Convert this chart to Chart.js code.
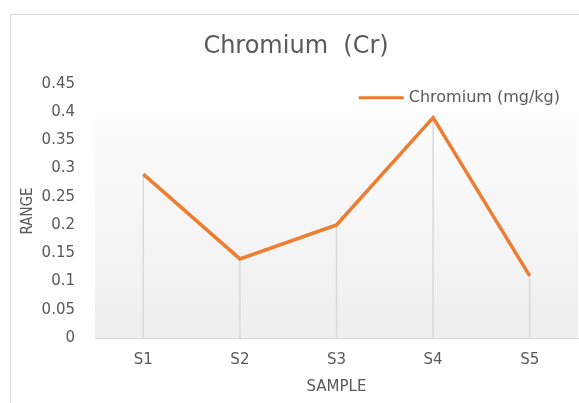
<!DOCTYPE html>
<html>
<head>
<meta charset="utf-8">
<script src="https://cdn.jsdelivr.net/npm/chart.js@4"></script>
<style>
  html, body { margin: 0; padding: 0; background: #fff; }
  #wrap { position: relative; width: 579px; height: 403px; }
  #frame { position: absolute; left: 10px; top: 14px; width: 600px; height: 420px;
           border: 1px solid #d9d9d9; pointer-events: none; }
</style>
</head>
<body>
<div id="wrap">
  <canvas id="crChart" width="579" height="403"></canvas>
  <div id="frame"></div>
</div>
<script>
const samples = ['S1', 'S2', 'S3', 'S4', 'S5'];
const chromium = [0.29, 0.14, 0.20, 0.39, 0.11];
const yTicks = [0, 0.05, 0.1, 0.15, 0.2, 0.25, 0.3, 0.35, 0.4, 0.45];

const TEXT = '#595959';
const FONT = 'DejaVu Sans';

// plot area background: white at top fading to light grey
const plotBackground = {
    id: 'plotBackground',
    beforeDraw(chart) {
        const { ctx, chartArea: a } = chart;
        const g = ctx.createLinearGradient(0, a.top, 0, a.bottom);
        g.addColorStop(0, '#ffffff');
        g.addColorStop(1, '#eeeeee');
        ctx.save();
        ctx.fillStyle = g;
        ctx.fillRect(a.left, a.top, a.right - a.left, a.bottom - a.top);
        ctx.restore();
    }
};

// drop lines from each point down to the x axis
const dropLines = {
    id: 'dropLines',
    beforeDatasetsDraw(chart) {
        const { ctx, scales } = chart;
        const meta = chart.getDatasetMeta(0);
        const base = scales.y.getPixelForValue(0);
        ctx.save();
        ctx.strokeStyle = '#d9d9d9';
        ctx.lineWidth = 1.5;
        meta.data.forEach(pt => {
            ctx.beginPath();
            ctx.moveTo(pt.x, pt.y);
            ctx.lineTo(pt.x, base);
            ctx.stroke();
        });
        ctx.restore();
    }
};

// legend drawn inside the plot, top right
const insideLegend = {
    id: 'insideLegend',
    afterDraw(chart) {
        const { ctx, chartArea: a } = chart;
        const ds = chart.data.datasets[0];
        ctx.save();
        ctx.font = '16px "' + FONT + '"';
        const w = ctx.measureText(ds.label).width;
        const tx = a.right - 18 - w;
        const y = a.top + 14;
        ctx.strokeStyle = ds.borderColor;
        ctx.lineWidth = 3;
        ctx.beginPath();
        ctx.moveTo(tx - 50, y);
        ctx.lineTo(tx - 5, y);
        ctx.stroke();
        ctx.fillStyle = TEXT;
        ctx.textBaseline = 'middle';
        ctx.fillText(ds.label, tx, y);
        ctx.restore();
    }
};

new Chart(document.getElementById('crChart'), {
    type: 'line',
    data: {
        labels: samples,
        datasets: [{
            label: 'Chromium (mg/kg)',
            data: chromium,
            borderColor: '#ED7D31',
            backgroundColor: '#ED7D31',
            borderWidth: 3.5,
            pointRadius: 0,
            tension: 0,
            fill: false
        }]
    },
    options: {
        responsive: false,
        animation: false,
        layout: { padding: { left: 14, right: 1, top: 16, bottom: 6 } },
        plugins: {
            title: {
                display: true,
                text: 'Chromium  (Cr)',
                color: TEXT,
                font: { family: FONT, size: 24, weight: 'normal' },
                padding: { top: 16, bottom: 23 }
            },
            legend: { display: false },
            tooltip: { enabled: false }
        },
        scales: {
            x: {
                offset: true,
                grid: { display: false, drawTicks: false },
                border: { color: '#d9d9d9', width: 1 },
                ticks: { color: TEXT, font: { family: FONT, size: 15 }, padding: 13 },
                title: {
                    display: true, text: 'SAMPLE', color: TEXT,
                    font: { family: FONT, size: 15 }, padding: { top: 4, bottom: 1 }
                },
                afterFit(s) { s.height = 59; }
            },
            y: {
                min: 0,
                max: 0.45,
                grid: { display: false, drawTicks: false },
                border: { display: false },
                afterBuildTicks(s) { s.ticks = yTicks.map(v => ({ value: v })); },
                ticks: {
                    color: TEXT,
                    font: { family: FONT, size: 15 },
                    padding: 20,
                    callback: v => String(v)
                },
                title: {
                    display: true, text: 'RANGE', color: TEXT,
                    font: { family: 'DejaVu Sans Condensed', size: 15 }, padding: 5
                },
                afterFit(s) { s.width = 81; }
            }
        }
    },
    plugins: [plotBackground, dropLines, insideLegend]
});
</script>
</body>
</html>
